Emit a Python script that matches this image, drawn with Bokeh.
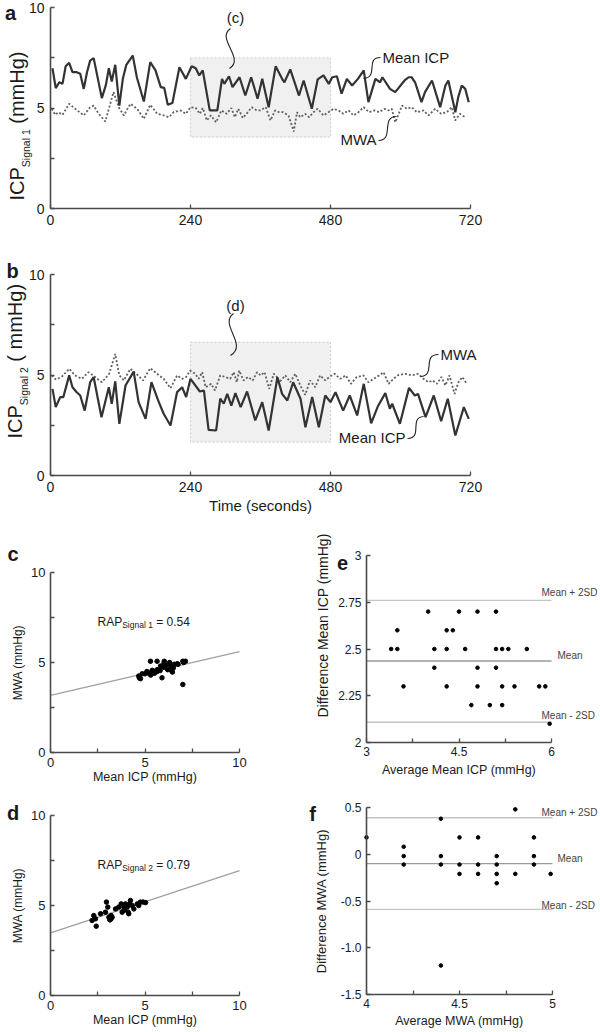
import math
from bokeh.plotting import figure
from bokeh.layouts import column, row
from bokeh.models import Range1d, FixedTicker, Label, BoxAnnotation, CustomJSTickFormatter
from bokeh.embed import file_html
from bokeh.resources import INLINE

FONT = "Liberation Sans"
INK = "#1a1a1a"
AXIS = "#4a4a4a"

# ---------------- data ----------------
time_ticks = [0, 240, 480, 720]
mmhg_ticks = [0, 5, 10]
mmhg_minor = [2.5, 7.5]

# panel a : signal 1
a_icp_t = [3.4, 9, 15, 20.6, 26, 32, 37.7, 45, 51, 57, 62.6, 68, 74, 88, 95, 100, 105, 111, 118, 124,
           130, 141, 148, 160, 171, 180, 189, 195, 201, 209, 221, 232, 242, 249, 255, 261, 273, 286,
           294, 298, 306, 312, 324, 334, 344, 355, 363, 374, 386, 397, 401, 411, 426, 434, 448, 458,
           468, 477, 483, 491, 499, 508, 517, 527, 537, 545, 557, 565, 569, 582, 591, 607, 614, 619,
           625, 636, 642, 654, 668, 677, 682, 694, 699, 705, 711, 717]
a_icp = [6.98, 5.99, 6.28, 6.2, 7.08, 7.25, 6.78, 6.78, 6.7, 5.95, 6.78, 7.36, 7.48, 5.49, 6.15, 6.98,
         6.32, 7.15, 5.12, 6.45, 7.15, 7.61, 6.53, 5.32, 7.28, 6.87, 6.04, 6.0, 5.16, 5.25, 7.03, 6.45,
         7.08, 6.98, 6.62, 6.87, 4.88, 4.88, 6.45, 6.2, 6.58, 6.04, 6.53, 5.62, 6.53, 5.46, 6.45, 5.04,
         7.08, 6.45, 6.28, 6.92, 5.62, 6.37, 4.96, 6.42, 6.62, 6.2, 6.53, 6.58, 5.71, 6.45, 6.12, 6.45,
         6.87, 5.29, 6.45, 6.28, 6.53, 5.95, 5.79, 6.37, 6.53, 6.53, 6.28, 5.29, 5.79, 6.37, 5.04, 6.12,
         6.37, 4.79, 5.54, 6.12, 5.95, 5.29]
a_mwa_t = [2.3, 8, 13.7, 20.6, 32, 42.3, 57, 68, 74, 82.6, 94, 108, 117, 125.7, 137, 148.6, 160, 171,
           183, 194, 203, 211, 223, 232, 240, 249, 256, 261, 268, 275, 284, 293, 302, 310, 316, 322,
           329.7, 336, 345, 353.7, 359.7, 369, 377, 385, 392, 399, 408, 417, 422.6, 428, 436.6, 443.4,
           450.8, 458, 468, 476.6, 485, 493.7, 502, 511, 519.4, 528, 536.6, 546, 555.4, 563.4, 572.6,
           579.4, 585, 591, 602.6, 611, 619.4, 628, 639.4, 648, 659.4, 669.7, 679.4, 688, 693.7, 702, 711]
a_mwa = [4.96, 4.66, 4.79, 4.66, 5.21, 4.96, 4.63, 5.04, 5.12, 4.71, 4.33, 5.79, 5.04, 4.63, 5.21, 4.96,
         4.46, 5.16, 4.71, 4.63, 4.54, 4.79, 4.88, 4.71, 5.04, 5.0, 4.71, 5.0, 4.38, 4.63, 4.29, 4.88,
         4.71, 5.0, 4.54, 4.96, 4.5, 4.71, 5.04, 4.88, 4.88, 5.04, 4.38, 4.88, 4.79, 4.79, 4.63, 3.83,
         4.79, 4.54, 4.71, 4.54, 4.79, 4.96, 4.63, 4.79, 4.96, 4.88, 4.71, 4.88, 4.63, 4.79, 5.04, 4.79,
         4.88, 4.79, 4.96, 4.88, 4.96, 4.29, 5.12, 4.96, 5.04, 4.79, 4.88, 4.63, 4.96, 4.71, 4.79, 5.04,
         4.38, 4.71, 4.54]

# panel b : signal 2
b_icp_t = [3.4, 9, 16.6, 22, 32, 37.7, 45, 51, 58.6, 68, 74, 87.4, 100, 105, 111, 118, 128.6, 142.6,
           151, 163, 173, 185.7, 194, 205.7, 217, 225.7, 232.6, 240, 256, 263, 271, 284, 291, 297,
           303, 310, 317, 326, 337, 351, 363, 374, 389, 397, 406, 416, 428.6, 437, 448.6, 460, 471,
           480, 488.6, 501.7, 513, 525.7, 537, 549.7, 561, 574, 581.7, 585.7, 599, 614.6, 624.5, 630,
           643, 657, 669.7, 681, 694, 708.6, 717]
b_icp = [4.31, 3.4, 3.9, 3.9, 4.98, 4.39, 4.14, 3.98, 3.23, 4.64, 4.89, 2.9, 4.39, 3.57, 4.68, 2.57,
         4.48, 5.17, 3.65, 2.82, 4.64, 3.65, 3.07, 2.49, 4.15, 4.39, 3.9, 4.81, 4.18, 4.23, 2.27, 2.24,
         3.82, 3.57, 4.06, 3.48, 4.1, 3.4, 4.18, 2.74, 3.65, 2.24, 4.89, 4.06, 3.73, 4.64, 3.82, 2.4,
         3.9, 2.4, 3.98, 3.65, 4.14, 3.23, 3.98, 2.99, 4.56, 2.6, 3.43, 4.1, 3.32, 3.57, 2.57, 4.36,
         3.98, 4.06, 2.9, 3.98, 2.7, 3.82, 1.99, 3.4, 2.82]
b_mwa_t = [2.3, 9, 19, 32, 42, 53.7, 65, 76.6, 88, 100.6, 111, 118, 125.7, 137, 147, 158.6, 171, 182.6,
           194, 205.7, 217, 225.7, 232.6, 239.4, 248, 254, 260, 266, 275.4, 282, 291, 299.4, 308, 314,
           319.4, 323.4, 331, 338.6, 346.7, 354, 360, 367, 375, 382.6, 386.6, 392.4, 402.6, 411, 419.7,
           428.3, 436.6, 445, 453.7, 462.3, 471, 478, 487, 496.6, 506, 515, 525, 536.6, 545, 553.7,
           563.4, 571, 579.4, 588, 596.6, 608, 619.4, 630, 639.4, 648, 655, 662.6, 670, 677, 684, 692.6,
           699.4, 706, 713.7]
b_mwa = [4.98, 4.78, 4.9, 5.31, 4.98, 4.81, 5.14, 4.9, 4.64, 5.06, 6.05, 4.98, 4.73, 5.31, 5.06, 4.73,
         5.34, 5.06, 4.81, 4.34, 4.98, 4.81, 4.9, 5.22, 5.06, 4.81, 5.14, 4.39, 4.56, 4.23, 4.98, 4.9,
         4.81, 5.14, 4.64, 5.22, 4.73, 4.9, 4.73, 5.14, 4.98, 5.14, 4.31, 5.06, 4.98, 4.64, 4.98, 4.64,
         5.06, 4.48, 4.01, 4.73, 4.39, 4.98, 4.73, 4.9, 5.06, 4.81, 4.98, 4.56, 4.9, 4.98, 4.64, 4.81,
         4.98, 5.14, 4.56, 4.81, 5.0, 5.06, 4.98, 5.06, 4.81, 4.64, 4.73, 4.56, 4.9, 4.48, 4.98, 4.06,
         4.64, 4.9, 4.56]

# panel c : MWA vs mean ICP (signal 1)
c_icp = [4.67, 4.7, 4.85, 4.76, 5.0, 5.1, 5.2, 5.29, 5.38, 5.5, 5.64, 5.64, 5.64, 5.8, 5.82, 5.9, 6.0,
         6.02, 6.1, 6.2, 6.35, 6.4, 6.45, 6.5, 6.55, 6.7, 6.75, 7.0, 7.05, 7.14, 7.0, 6.3, 6.0, 5.4, 5.3]
c_mwa = [4.25, 4.15, 4.37, 4.1, 4.37, 4.5, 4.4, 5.07, 4.56, 4.4, 4.6, 5.07, 4.5, 4.55, 4.8, 4.15, 4.74,
         5.07, 4.85, 4.6, 4.8, 4.56, 4.47, 4.7, 4.9, 4.93, 4.9, 5.07, 5.0, 5.07, 3.78, 5.0, 4.95, 4.55, 4.3]
c_fit_x = [0, 10]
c_fit_y = [3.17, 5.61]
c_rap = "0.54"

# panel d : MWA vs mean ICP (signal 2)
d_icp = [2.2, 2.29, 2.38, 2.42, 2.65, 2.91, 2.96, 3.03, 3.09, 3.14, 3.21, 3.26, 3.44, 3.61, 3.74, 3.79,
         3.88, 3.97, 4.06, 4.11, 4.14, 4.2, 4.23, 4.32, 4.41, 4.59, 4.67, 4.76, 4.9, 5.03, 3.2, 3.9]
d_mwa = [4.17, 4.44, 4.26, 3.85, 4.54, 4.63, 5.19, 4.91, 4.35, 4.2, 4.44, 4.35, 4.81, 4.91, 5.09, 4.63,
         4.91, 5.09, 4.91, 4.63, 4.54, 5.09, 5.28, 5.0, 4.81, 5.09, 5.0, 5.19, 5.19, 5.16, 4.25, 4.75]
d_fit_x = [0, 10]
d_fit_y = [3.48, 6.94]
d_rap = "0.79"

# panel e : Bland-Altman mean ICP
e_avg = [4.0, 4.5, 4.8, 5.1, 3.5, 4.3, 4.4, 3.4, 3.5, 4.1, 4.3, 4.6, 5.1, 5.2, 5.3, 5.6, 4.1, 4.8, 5.1,
         3.6, 4.3, 4.8, 5.2, 5.4, 5.8, 5.9, 4.7, 5.0, 5.2, 5.97]
e_diff = [2.7, 2.7, 2.7, 2.7, 2.6, 2.6, 2.6, 2.5, 2.5, 2.5, 2.5, 2.5, 2.5, 2.5, 2.5, 2.5, 2.4, 2.4, 2.4,
          2.3, 2.3, 2.3, 2.3, 2.3, 2.3, 2.3, 2.2, 2.2, 2.2, 2.1]
e_limits = [2.76, 2.436, 2.108]          # mean+2SD, mean, mean-2SD
e_xticks = [3, 4.5, 6]
e_xminor = [3.75, 5.25]
e_yticks = [2, 2.25, 2.5, 2.75, 3]

# panel f : Bland-Altman MWA
f_avg = [4.0, 4.2, 4.2, 4.2, 4.4, 4.4, 4.4, 4.4, 4.5, 4.5, 4.5, 4.6, 4.6, 4.6, 4.7, 4.7, 4.7, 4.7, 4.8,
         4.8, 4.9, 4.9, 4.9, 4.99]
f_diff = [0.18, 0.08, -0.02, -0.11, 0.38, -0.02, -0.11, -1.19, 0.18, -0.11, -0.21, 0.18, -0.11, -0.21,
          -0.02, -0.11, -0.21, -0.31, 0.48, -0.21, 0.18, -0.02, -0.11, -0.21]
f_limits = [0.39, -0.10, -0.59]
f_xticks = [4, 4.5, 5]
f_xminor = [4.25, 4.75]
f_yticks = [-1.5, -1.0, -0.5, 0, 0.5]
limit_names = ["Mean + 2SD", "Mean", "Mean - 2SD"]


# ---------------- geometry helpers (page pixels -> data) ----------------
class Geo:
    def __init__(self, w, h, left, top, xa, xb, pxa, pxb, ya, yb, pya, pyb):
        self.w, self.h, self.left, self.top = w, h, left, top
        self.xa, self.pxa, self.sx = xa, pxa, (xb - xa) / (pxb - pxa)
        self.ya, self.pya, self.sy = ya, pya, (yb - ya) / (pyb - pya)

    def X(self, px):
        return self.xa + (px - self.pxa) * self.sx

    def Y(self, py):
        return self.ya + (py - self.pya) * self.sy


def make_fig(g, xb, yb, tick_size):
    p = figure(width=g.w, height=g.h,
               x_range=Range1d(g.X(g.left), g.X(g.left + g.w)),
               y_range=Range1d(g.Y(g.top + g.h), g.Y(g.top)),
               output_backend="svg", toolbar_location=None,
               min_border=0, min_border_left=0, min_border_right=0,
               min_border_top=0, min_border_bottom=0)
    p.xgrid.visible = False
    p.ygrid.visible = False
    p.outline_line_color = None
    p.background_fill_color = "white"
    p.border_fill_color = "white"
    p.xaxis.fixed_location = yb[0]
    p.yaxis.fixed_location = xb[0]
    p.xaxis.bounds = xb
    p.yaxis.bounds = yb
    for ax in list(p.xaxis) + list(p.yaxis):
        ax.axis_line_color = AXIS
        ax.axis_line_width = 1.6
        ax.major_tick_line_color = AXIS
        ax.minor_tick_line_color = AXIS
        ax.major_tick_line_width = 1.3
        ax.minor_tick_line_width = 1.3
        ax.major_tick_in = 4
        ax.major_tick_out = 0
        ax.minor_tick_in = 4
        ax.minor_tick_out = 0
        ax.major_label_text_font = FONT
        ax.major_label_text_font_size = tick_size
        ax.major_label_text_color = INK
        ax.major_label_standoff = 6
        ax.axis_label_text_font = FONT
        ax.axis_label_text_color = INK
        ax.axis_label_text_font_style = "normal"
    return p


def label(p, g, px, py, text, size, align="left", baseline="middle", angle=0.0, color=INK, bold=False):
    p.add_layout(Label(x=g.X(px), y=g.Y(py), text=text, text_font=FONT, text_font_size=size,
                       text_align=align, text_baseline=baseline, angle=angle,
                       text_color=color, text_font_style="bold" if bold else "normal"))


def squiggle(p, g, a, b, c0, c1):
    p.bezier(x0=[g.X(a[0])], y0=[g.Y(a[1])], x1=[g.X(b[0])], y1=[g.Y(b[1])],
             cx0=[g.X(c0[0])], cy0=[g.Y(c0[1])], cx1=[g.X(c1[0])], cy1=[g.Y(c1[1])],
             line_color="#222222", line_width=1.1)


fmt_plain = CustomJSTickFormatter(code="return String(tick);")
fmt_f = CustomJSTickFormatter(code="return tick === 0 ? '0' : tick.toFixed(1);")
half = math.pi / 2

# ---------------- panel a ----------------
ga = Geo(600, 247, 0, 0, 0, 720, 50, 470, 0, 10, 208, 7)
pa = make_fig(ga, (0, 720), (0, 10), "14px")
pa.xaxis.ticker = FixedTicker(ticks=time_ticks)
pa.yaxis.ticker = FixedTicker(ticks=mmhg_ticks, minor_ticks=mmhg_minor)
pa.add_layout(BoxAnnotation(left=240, right=480, bottom=3.55, top=7.5, fill_color="#f0f0f0",
                            fill_alpha=1.0, line_color="#808080", line_dash="2 2", line_width=1.2,
                            level="underlay"))
pa.line(a_mwa_t, a_mwa, line_color="#606060", line_width=1.8, line_dash="2 2")
pa.line(a_icp_t, a_icp, line_color="#333333", line_width=2.2)
label(pa, ga, 235, 17, "(c)", "15px", align="center")
squiggle(pa, ga, (230, 28), (229, 68), (215, 38), (245, 58))
label(pa, ga, 382, 57, "Mean ICP", "15px")
squiggle(pa, ga, (380, 57), (363, 78), (364, 57), (379, 77))
label(pa, ga, 376, 139, "MWA", "15px", align="right")
squiggle(pa, ga, (378, 140), (396, 116), (394, 140), (380, 116))
label(pa, ga, 16, 200, "ICP", "20px", angle=half)
label(pa, ga, 25, 166.7, "Signal 1", "10.5px", angle=half)
label(pa, ga, 16, 123.2, "(mmHg)", "20px", angle=half)
label(pa, ga, 10, 12, "a", "20px", align="center", baseline="alphabetic", bold=True)

# ---------------- panel b ----------------
gb = Geo(600, 283, 0, 247, 0, 720, 50, 470, 0, 10, 475, 274)
pb = make_fig(gb, (0, 720), (0, 10), "14px")
pb.xaxis.ticker = FixedTicker(ticks=time_ticks)
pb.yaxis.ticker = FixedTicker(ticks=mmhg_ticks, minor_ticks=mmhg_minor)
pb.xaxis.axis_label = "Time (seconds)"
pb.xaxis.axis_label_text_font_size = "15px"
pb.xaxis.axis_label_standoff = 2
pb.add_layout(BoxAnnotation(left=240, right=480, bottom=1.66, top=6.64, fill_color="#f0f0f0",
                            fill_alpha=1.0, line_color="#808080", line_dash="2 2", line_width=1.2,
                            level="underlay"))
pb.line(b_mwa_t, b_mwa, line_color="#606060", line_width=1.8, line_dash="2 2")
pb.line(b_icp_t, b_icp, line_color="#333333", line_width=2.2)
label(pb, gb, 235, 305, "(d)", "15px", align="center")
squiggle(pb, gb, (233, 313), (230, 355), (218, 324), (248, 344))
label(pb, gb, 440, 354, "MWA", "15px")
squiggle(pb, gb, (438, 354), (420, 376), (421, 354), (436, 375))
label(pb, gb, 405, 437, "Mean ICP", "15px", align="right")
squiggle(pb, gb, (407, 438), (423, 416), (423, 438), (408, 417))
label(pb, gb, 14, 438, "ICP", "20px", angle=half)
label(pb, gb, 23, 404.7, "Signal 2", "10.5px", angle=half)
label(pb, gb, 14, 361.2, "( mmHg)", "20px", angle=half)
label(pb, gb, 12, 270, "b", "20px", align="center", baseline="alphabetic", bold=True)


# ---------------- panels c / d ----------------
def scatter_fig(g, xs, ys, fx, fy, sub, rap, letter, let_base, rap_base):
    p = make_fig(g, (0, 10), (0, 10), "13px")
    p.xaxis.ticker = FixedTicker(ticks=mmhg_ticks, minor_ticks=mmhg_minor)
    p.yaxis.ticker = FixedTicker(ticks=mmhg_ticks, minor_ticks=mmhg_minor)
    p.xaxis.axis_label = "Mean ICP (mmHg)"
    p.yaxis.axis_label = "MWA (mmHg)"
    p.xaxis.axis_label_text_font_size = "12.5px"
    p.yaxis.axis_label_text_font_size = "12px"
    p.xaxis.major_label_standoff = 5
    p.yaxis.major_label_standoff = 5
    p.xaxis.axis_label_standoff = 0
    p.yaxis.axis_label_standoff = 3
    p.line(fx, fy, line_color="#a0a0a0", line_width=1.3)
    p.scatter(xs, ys, size=4.5, color="#000000")
    label(p, g, 97, rap_base, "RAP", "12px", baseline="alphabetic")
    label(p, g, 121.7, rap_base + 3, sub, "8.5px", baseline="alphabetic")
    label(p, g, 155.7, rap_base, "= " + rap, "12px", baseline="alphabetic")
    label(p, g, 12.5, let_base, letter, "20px", align="center", baseline="alphabetic", bold=True)
    return p


gc = Geo(300, 263, 0, 530, 0, 10, 50, 239, 0, 10, 752, 572)
pc = scatter_fig(gc, c_icp, c_mwa, c_fit_x, c_fit_y, "Signal 1", c_rap, "c", 553, 621)
gd = Geo(300, 238, 0, 793, 0, 10, 50, 239, 0, 10, 995, 815)
pd = scatter_fig(gd, d_icp, d_mwa, d_fit_x, d_fit_y, "Signal 2", d_rap, "d", 812, 864)


# ---------------- panels e / f ----------------
def ba_fig(g, xb, yb, xt, xm, yt, yfmt, xs, ys, lims, xlab, lab_y, letter, let_px, let_base, xl_standoff):
    p = make_fig(g, xb, yb, "12px")
    p.xaxis.ticker = FixedTicker(ticks=xt, minor_ticks=xm)
    p.yaxis.ticker = FixedTicker(ticks=yt)
    p.xaxis.formatter = fmt_plain
    p.yaxis.formatter = yfmt
    p.xaxis.axis_label = xlab
    p.xaxis.axis_label_text_font_size = "12.5px"
    p.xaxis.major_label_standoff = 4
    p.yaxis.major_label_standoff = 5
    p.xaxis.axis_label_standoff = xl_standoff
    cols = ["#c4c4c4", "#9a9a9a", "#c4c4c4"]
    p.segment(x0=xb[0], x1=xb[1], y0=lims, y1=lims, line_color=cols, line_width=1.4)
    p.scatter(xs, ys, size=3.6, color="#000000")
    for name, py in zip(limit_names, lab_y):
        label(p, g, 557 if name == "Mean" else 541, py, name, "10px", color="#444444")
    label(p, g, let_px, let_base, letter, "20px", align="center", baseline="alphabetic", bold=True)
    return p


ge = Geo(300, 263, 300, 530, 3, 6, 366, 551, 2, 3, 742, 555)
pe = ba_fig(ge, (3, 6), (2, 3), e_xticks, e_xminor, e_yticks, fmt_plain, e_avg, e_diff, e_limits,
            "Average Mean ICP (mmHg)", [591.7, 655, 715], "e", 342, 562, 4)
label(pe, ge, 322, 625, "Difference Mean ICP (mmHg)", "14px", align="center", angle=half)

gf = Geo(300, 238, 300, 793, 4, 5, 366, 552, -1.5, 0.5, 994, 807)
pf = ba_fig(gf, (4, 5), (-1.5, 0.5), f_xticks, f_xminor, f_yticks, fmt_f, f_avg, f_diff, f_limits,
            "Average MWA (mmHg)", [811.7, 858.3, 905], "f", 312, 813, 3)
pf.yaxis.axis_label = "Difference MWA (mmHg)"
pf.yaxis.axis_label_text_font_size = "13px"
pf.yaxis.axis_label_standoff = 9

layout = column(pa, pb, row(pc, pe), row(pd, pf))
open("out.html", "w").write(file_html(layout, INLINE, title="ICP MWA"))
